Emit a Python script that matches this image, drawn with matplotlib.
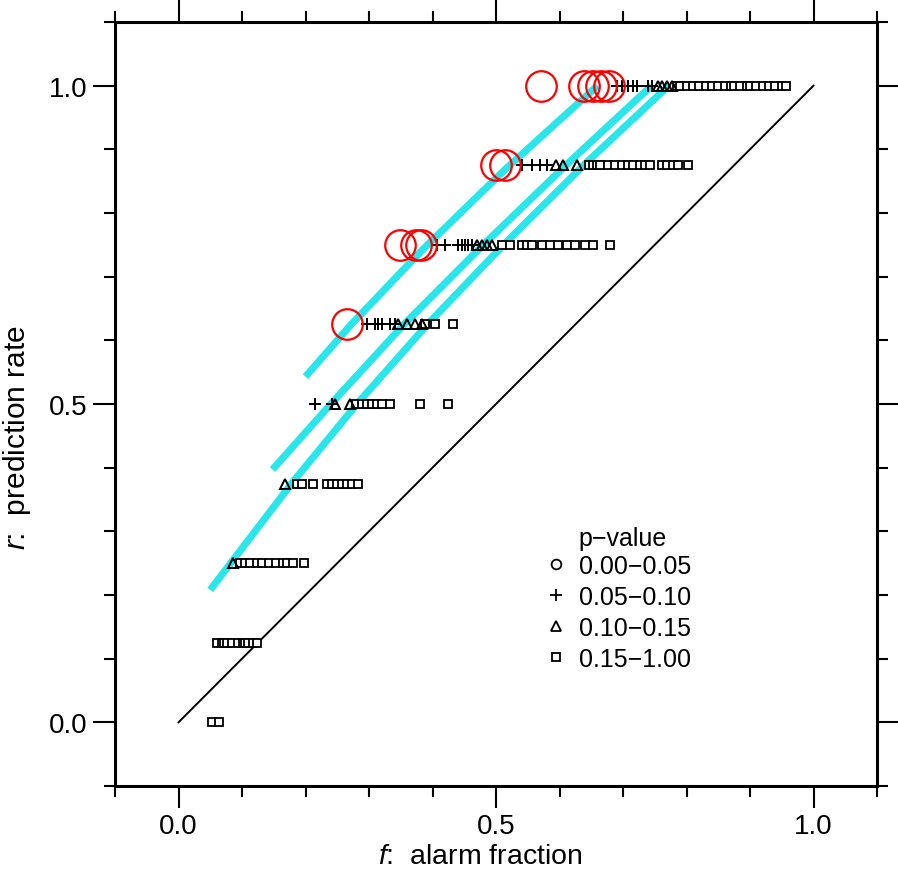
import matplotlib
matplotlib.use('Agg')
import matplotlib.pyplot as plt
from matplotlib.lines import Line2D
import numpy as np

plt.rcParams['font.family'] = ['Liberation Sans', 'DejaVu Sans']
plt.rcParams['mathtext.fontset'] = 'custom'
plt.rcParams['mathtext.it'] = 'Liberation Sans:italic'
plt.rcParams['mathtext.rm'] = 'Liberation Sans'

# ---- data ----
# p-value 0.00-0.05 (red circles): rows of prediction rate and alarm fractions
circle_r = [1.0, 0.875, 0.75, 0.625]
circle_f = [[0.571, 0.638, 0.652, 0.665, 0.678],
            [0.500, 0.514],
            [0.349, 0.374, 0.382],
            [0.266]]

# p-value 0.05-0.10 (plus)
plus_r = [1.0, 0.875, 0.75, 0.625, 0.5]
plus_f = [[0.690, 0.698, 0.708, 0.715, 0.722, 0.739, 0.745],
          [0.541, 0.557, 0.569, 0.580],
          [0.407, 0.420, 0.440, 0.447, 0.451, 0.456, 0.462],
          [0.297, 0.310, 0.314, 0.321, 0.333, 0.341],
          [0.215, 0.241]]

# p-value 0.10-0.15 (triangles)
tri_r = [1.0, 0.875, 0.75, 0.625, 0.5, 0.375, 0.25]
tri_f = [[0.755, 0.762, 0.769, 0.777],
         [0.594, 0.605, 0.627],
         [0.470, 0.478, 0.486, 0.494],
         [0.346, 0.360, 0.373, 0.384],
         [0.247, 0.270],
         [0.168],
         [0.086]]

# p-value 0.15-1.00 (squares)
sq_r = [1.0, 0.875, 0.75, 0.625, 0.5, 0.375, 0.25, 0.125, 0.0]
sq_f = [[0.785, 0.79, 0.80, 0.81, 0.82, 0.83, 0.84, 0.85, 0.86, 0.87, 0.875,
         0.885, 0.895, 0.90, 0.91, 0.92, 0.93, 0.94, 0.95, 0.957],
        [0.646, 0.652, 0.659, 0.664, 0.676, 0.687, 0.698, 0.708, 0.715, 0.726,
         0.734, 0.742, 0.761, 0.770, 0.778, 0.786, 0.803],
        [0.509, 0.522, 0.541, 0.549, 0.557, 0.572, 0.585, 0.597, 0.612, 0.624,
         0.640, 0.653, 0.679],
        [0.388, 0.404, 0.432],
        [0.280, 0.289, 0.297, 0.305, 0.313, 0.321, 0.333, 0.381, 0.425],
        [0.187, 0.195, 0.212, 0.234, 0.242, 0.250, 0.258, 0.266, 0.274, 0.283],
        [0.097, 0.105, 0.113, 0.124, 0.132, 0.142, 0.153, 0.164, 0.171, 0.181, 0.197],
        [0.061, 0.068, 0.072, 0.077, 0.085, 0.093, 0.101, 0.105, 0.110, 0.118, 0.124],
        [0.052, 0.063]]

# cyan curves
curve1_f = [0.200, 0.272, 0.385, 0.515, 0.660]
curve1_r = [0.543, 0.625, 0.743, 0.869, 1.0]
curve2_f = [0.148, 0.240, 0.355, 0.480, 0.610, 0.745]
curve2_r = [0.397, 0.500, 0.625, 0.750, 0.875, 1.0]
curve3_f = [0.050, 0.178, 0.281, 0.392, 0.512, 0.638, 0.772]
curve3_r = [0.208, 0.375, 0.500, 0.625, 0.750, 0.875, 1.0]

# diagonal (random prediction)
diag_f = [0.0, 1.0]
diag_r = [0.0, 1.0]

tick_vals = [0.0, 0.5, 1.0]
tick_labels = ['0.0', '0.5', '1.0']
minor_vals = [-0.1, 0.1, 0.2, 0.3, 0.4, 0.6, 0.7, 0.8, 0.9, 1.1]
legend_labels = ['0.00\u22120.05', '0.05\u22120.10', '0.10\u22120.15', '0.15\u22121.00']

# ---- figure ----
fig = plt.figure(figsize=(8.98, 8.87), dpi=100)
ax = fig.add_axes([115/898, 1-787/887, 762/898, 764/887])

cyan = '#2ae6ea'
for cf, cr in [(curve1_f, curve1_r), (curve2_f, curve2_r), (curve3_f, curve3_r)]:
    ax.plot(cf, cr, color=cyan, lw=5.2, solid_capstyle='butt',
            solid_joinstyle='round', zorder=1)

ax.plot(diag_f, diag_r, color='black', lw=1.4, zorder=2)

for r, fl in zip(sq_r, sq_f):
    ax.plot(fl, [r]*len(fl), ls='none', marker='s', ms=6.2, mfc='white',
            mec='black', mew=1.3, zorder=3)
for r, fl in zip(tri_r, tri_f):
    ax.plot(fl, [r]*len(fl), ls='none', marker='^', ms=7.5, mfc='none',
            mec='black', mew=1.4, zorder=4)
for r, fl in zip(plus_r, plus_f):
    ax.plot(fl, [r]*len(fl), ls='none', marker='+', ms=9, mec='black',
            mew=1.4, zorder=5)
for r, fl in zip(circle_r, circle_f):
    ax.plot(fl, [r]*len(fl), ls='none', marker='o', ms=22, mfc='none',
            mec='#ff0000', mew=1.6, zorder=6)

ax.set_xlim(-0.1, 1.1)
ax.set_ylim(-0.1, 1.1)

for sp in ax.spines.values():
    sp.set_linewidth(2.2)

ax.set_xticks(tick_vals)
ax.set_xticklabels(tick_labels)
ax.set_yticks(tick_vals)
ax.set_yticklabels(tick_labels)
ax.set_xticks(minor_vals, minor=True)
ax.set_yticks(minor_vals, minor=True)
ax.tick_params(which='major', direction='out', length=15.5, width=1.5,
               labelsize=20, top=True, right=True, pad=4)
ax.tick_params(which='minor', direction='out', length=8, width=1.5,
               top=True, right=True)

ax.set_xlabel(r'$\mathit{f}$:  alarm fraction', fontsize=20.5)
ax.set_ylabel(r'$\mathit{r}$:  prediction rate', fontsize=21.5)
ax.xaxis.set_label_coords(0.479, -0.075)
ax.yaxis.set_label_coords(-0.108, 0.457)

handles = [
    Line2D([], [], ls='none', marker='o', ms=7, mfc='none', mec='black', mew=1.3),
    Line2D([], [], ls='none', marker='+', ms=8, mec='black', mew=1.3),
    Line2D([], [], ls='none', marker='^', ms=7, mfc='none', mec='black', mew=1.3),
    Line2D([], [], ls='none', marker='s', ms=6, mfc='none', mec='black', mew=1.3),
]
leg = ax.legend(handles, legend_labels, loc='upper left',
                bbox_to_anchor=((546-115)/762, (787-555)/764),
                frameon=False, fontsize=18, handlelength=0.8,
                handletextpad=0.52, labelspacing=0.28, borderpad=0,
                borderaxespad=0)
ax.text((578-115)/762, (787-546)/764, 'p\u2212value', transform=ax.transAxes,
        fontsize=18, ha='left', va='baseline')

fig.savefig('out.png', dpi=100)
